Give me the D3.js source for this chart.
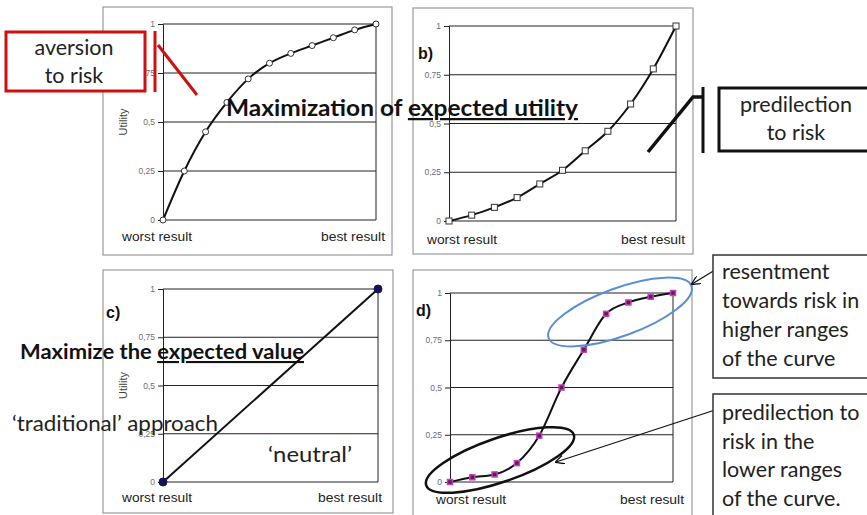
<!DOCTYPE html>
<html>
<head>
<meta charset="utf-8">
<script src="https://cdn.jsdelivr.net/npm/d3@7"></script>
<style>
  body { margin: 0; background: #fff; }
  svg { display: block; }
</style>
</head>
<body>
<svg width="867" height="515"></svg>
<script>
// ---------------- data ----------------
var steps = [0, 1, 2, 3, 4, 5, 6, 7, 8, 9, 10];
var aversionU = [0, 0.25, 0.45, 0.60, 0.72, 0.80, 0.85, 0.89, 0.93, 0.97, 1.0];
var predilectionU = [0, 0.03, 0.07, 0.12, 0.19, 0.26, 0.36, 0.46, 0.60, 0.78, 1.0];
var neutralSteps = [0, 10];
var neutralU = [0, 1];
var mixedU = [0, 0.025, 0.04, 0.10, 0.245, 0.5, 0.70, 0.89, 0.95, 0.98, 1.0];
var yTicks = [0, 0.25, 0.5, 0.75, 1];
var yTickLabels = ["0", "0,25", "0,5", "0,75", "1"];
var resentLines = ["resentment", "towards risk in", "higher ranges", "of the curve"];
var predLowLines = ["predilection to", "risk in the", "lower ranges", "of the curve."];

var svg = d3.select("svg");
var defs = svg.append("defs");
defs.append("marker")
    .attr("id", "arr")
    .attr("viewBox", "0 0 10 10")
    .attr("refX", 9).attr("refY", 5)
    .attr("markerWidth", 9).attr("markerHeight", 9)
    .attr("markerUnits", "userSpaceOnUse")
    .attr("orient", "auto")
    .append("path")
    .attr("d", "M0,0 L10,5 L0,10")
    .attr("fill", "none").attr("stroke", "#111").attr("stroke-width", 1.4);

var axisFont = "Liberation Sans, Arial, sans-serif";

// ---------------- panels ----------------
function drawPanel(p) {
    var g = svg.append("g");
    g.append("rect")
        .attr("x", p.box[0]).attr("y", p.box[1])
        .attr("width", p.box[2]).attr("height", p.box[3])
        .attr("fill", "#fff").attr("stroke", "#9a9a9a").attr("stroke-width", 1.2);

    var x = d3.scaleLinear().domain([0, 10]).range([p.x0, p.x1]);
    var y = d3.scaleLinear().domain([0, 1]).range([p.y0, p.y1]);

    // gridlines
    g.selectAll("line.grid").data(yTicks).join("line")
        .attr("x1", p.x0).attr("x2", p.x1)
        .attr("y1", d => y(d)).attr("y2", d => y(d))
        .attr("stroke", "#222").attr("stroke-width", 1);
    g.append("line")
        .attr("x1", p.x1).attr("x2", p.x1).attr("y1", p.y1).attr("y2", p.y0)
        .attr("stroke", "#222");

    var ax = g.append("g")
        .attr("transform", "translate(" + p.x0 + ",0)")
        .call(d3.axisLeft(y).tickValues(yTicks).tickSize(5).tickPadding(3)
            .tickFormat((d, i) => yTickLabels[i]));
    ax.select(".domain").attr("stroke", "#222");
    ax.selectAll("line").attr("stroke", "#222");
    ax.selectAll("text")
        .attr("font-family", axisFont)
        .attr("font-size", 8.5).attr("fill", "#6c6c78");

    if (p.utility) {
        g.append("text")
            .attr("transform", "translate(" + (p.x0 - 36) + "," + ((p.y0 + p.y1) / 2) + ") rotate(-90)")
            .attr("text-anchor", "middle")
            .attr("font-family", axisFont)
            .attr("font-size", 11).attr("fill", "#444")
            .text("Utility");
    }
    if (p.tag) {
        g.append("text")
            .attr("x", p.tag[0]).attr("y", p.tag[1])
            .attr("font-family", axisFont)
            .attr("font-weight", "bold").attr("font-size", 16).attr("fill", "#111")
            .text(p.tag[2]);
    }
    g.append("text")
        .attr("x", p.worst[0]).attr("y", p.worst[1])
        .attr("font-family", axisFont)
        .attr("font-size", 13.5).attr("fill", "#222")
        .attr("textLength", 70).attr("lengthAdjust", "spacingAndGlyphs")
        .text("worst result");
    g.append("text")
        .attr("x", p.best[0] - 64).attr("y", p.best[1])
        .attr("font-family", axisFont)
        .attr("font-size", 13.5).attr("fill", "#222")
        .attr("textLength", 64).attr("lengthAdjust", "spacingAndGlyphs")
        .text("best result");

    var pts = p.xs.map((d, i) => ({ s: d, u: p.us[i] }));
    var line = d3.line()
        .x(d => x(d.s)).y(d => y(d.u))
        .curve(p.curve);
    g.append("path").datum(pts)
        .attr("d", line)
        .attr("fill", "none").attr("stroke", "#111").attr("stroke-width", 2);

    if (p.marker === "circle" || p.marker === "dot") {
        g.selectAll("circle.pt").data(pts).join("circle")
            .attr("cx", d => x(d.s)).attr("cy", d => y(d.u))
            .attr("r", p.marker === "dot" ? 4 : 3)
            .attr("fill", p.marker === "dot" ? "#14145a" : "#fff")
            .attr("stroke", p.marker === "dot" ? "#14145a" : "#333").attr("stroke-width", 1);
    } else {
        var sz = p.marker === "msq" ? 5 : 6;
        g.selectAll("rect.pt").data(pts).join("rect")
            .attr("x", d => x(d.s) - sz / 2).attr("y", d => y(d.u) - sz / 2)
            .attr("width", sz).attr("height", sz)
            .attr("fill", p.marker === "msq" ? "#5a2050" : "#fff")
            .attr("stroke", p.marker === "msq" ? "#c83cc0" : "#333")
            .attr("stroke-width", p.marker === "msq" ? 1.5 : 1);
    }
}

drawPanel({ box: [103, 7, 289, 248], x0: 163, x1: 376, y0: 220, y1: 24, utility: true,
    worst: [122, 241], best: [385, 241], xs: steps, us: aversionU,
    curve: d3.curveMonotoneX, marker: "circle" });
drawPanel({ box: [413, 8, 280, 246], x0: 449, x1: 676, y0: 221, y1: 26,
    tag: [418, 59, "b)"], worst: [427, 244], best: [685, 244], xs: steps, us: predilectionU,
    curve: d3.curveMonotoneX, marker: "square" });
drawPanel({ box: [103, 270, 290, 243], x0: 163, x1: 378, y0: 482, y1: 289, utility: true,
    tag: [106, 318, "c)"], worst: [122, 502], best: [382, 502], xs: neutralSteps, us: neutralU,
    curve: d3.curveLinear, marker: "dot" });
drawPanel({ box: [413, 270, 279, 250], x0: 450, x1: 673, y0: 482, y1: 293,
    tag: [416, 316, "d)"], worst: [436, 504], best: [684, 504], xs: steps, us: mixedU,
    curve: d3.curveMonotoneX, marker: "msq" });

// ---------------- annotations ----------------
var font = "Lato, 'Open Sans', sans-serif";
var fs = 21.5;

// big titles
var t1 = svg.append("text").attr("x", 226).attr("y", 116)
    .attr("font-family", font).attr("font-weight", "bold").attr("font-size", 22.5).attr("fill", "#111")
    .attr("textLength", 352).attr("lengthAdjust", "spacingAndGlyphs");
t1.append("tspan").text("Maximization of ");
t1.append("tspan").attr("text-decoration", "underline").text("expected utility");

var t2 = svg.append("text").attr("x", 20).attr("y", 359)
    .attr("font-family", font).attr("font-weight", "bold").attr("font-size", 21).attr("fill", "#111")
    .attr("textLength", 284).attr("lengthAdjust", "spacingAndGlyphs");
t2.append("tspan").text("Maximize the ");
t2.append("tspan").attr("text-decoration", "underline").text("expected value");

svg.append("text").attr("x", 12).attr("y", 431)
    .attr("font-family", font).attr("font-size", fs).attr("fill", "#222")
    .attr("textLength", 206).attr("lengthAdjust", "spacingAndGlyphs")
    .text("\u2018traditional\u2019 approach");
svg.append("text").attr("x", 268).attr("y", 462)
    .attr("font-family", font).attr("font-size", fs).attr("fill", "#222")
    .attr("textLength", 84).attr("lengthAdjust", "spacingAndGlyphs")
    .text("\u2018neutral\u2019");

// aversion to risk (red)
svg.append("rect").attr("x", 6).attr("y", 32).attr("width", 139).attr("height", 59)
    .attr("fill", "#fff").attr("stroke", "#d01010").attr("stroke-width", 3);
svg.append("line").attr("x1", 155).attr("x2", 155).attr("y1", 31).attr("y2", 92)
    .attr("stroke", "#d01010").attr("stroke-width", 3);
svg.append("line").attr("x1", 158).attr("y1", 45).attr("x2", 197).attr("y2", 95)
    .attr("stroke", "#d01010").attr("stroke-width", 3);
svg.selectAll("text.av").data(["aversion", "to risk"]).join("text")
    .attr("x", 74).attr("y", (d, i) => 55 + i * 28)
    .attr("text-anchor", "middle")
    .attr("font-family", font).attr("font-size", fs).attr("fill", "#222")
    .text(d => d);

// predilection to risk (black)
svg.append("rect").attr("x", 719).attr("y", 88).attr("width", 160).attr("height", 63)
    .attr("fill", "#fff").attr("stroke", "#111").attr("stroke-width", 3);
svg.append("line").attr("x1", 703).attr("x2", 703).attr("y1", 87).attr("y2", 153)
    .attr("stroke", "#111").attr("stroke-width", 3);
svg.append("path").attr("d", "M648,152 L693,97 L703,97")
    .attr("fill", "none").attr("stroke", "#111").attr("stroke-width", 3.5);
svg.selectAll("text.pr").data(["predilection", "to risk"]).join("text")
    .attr("x", 796).attr("y", (d, i) => 112 + i * 28)
    .attr("text-anchor", "middle")
    .attr("font-family", font).attr("font-size", fs).attr("fill", "#222")
    .text(d => d);

// ellipses in panel d
svg.append("ellipse").attr("cx", 620).attr("cy", 312).attr("rx", 76).attr("ry", 24)
    .attr("transform", "rotate(-20,620,312)")
    .attr("fill", "none").attr("stroke", "#5b8ed6").attr("stroke-width", 2);
svg.append("ellipse").attr("cx", 500).attr("cy", 460).attr("rx", 78).attr("ry", 22)
    .attr("transform", "rotate(-19,500,460)")
    .attr("fill", "none").attr("stroke", "#111").attr("stroke-width", 2.5);

// callouts on the right
svg.append("line").attr("x1", 715).attr("y1", 270).attr("x2", 692).attr("y2", 284)
    .attr("stroke", "#111").attr("stroke-width", 1.3).attr("marker-end", "url(#arr)");
svg.append("line").attr("x1", 715).attr("y1", 410).attr("x2", 556).attr("y2", 462)
    .attr("stroke", "#111").attr("stroke-width", 1.3).attr("marker-end", "url(#arr)");

svg.append("rect").attr("x", 713).attr("y", 255).attr("width", 170).attr("height", 123)
    .attr("fill", "#fff").attr("stroke", "#333").attr("stroke-width", 1.5);
svg.append("rect").attr("x", 713).attr("y", 394).attr("width", 170).attr("height", 140)
    .attr("fill", "#fff").attr("stroke", "#333").attr("stroke-width", 1.5);
svg.selectAll("text.rs").data(resentLines).join("text")
    .attr("x", 722).attr("y", (d, i) => 279 + i * 29)
    .attr("font-family", font).attr("font-size", fs).attr("fill", "#222")
    .text(d => d);
svg.selectAll("text.pl").data(predLowLines).join("text")
    .attr("x", 722).attr("y", (d, i) => 420 + i * 28.7)
    .attr("font-family", font).attr("font-size", fs).attr("fill", "#222")
    .text(d => d);
</script>
</body>
</html>
